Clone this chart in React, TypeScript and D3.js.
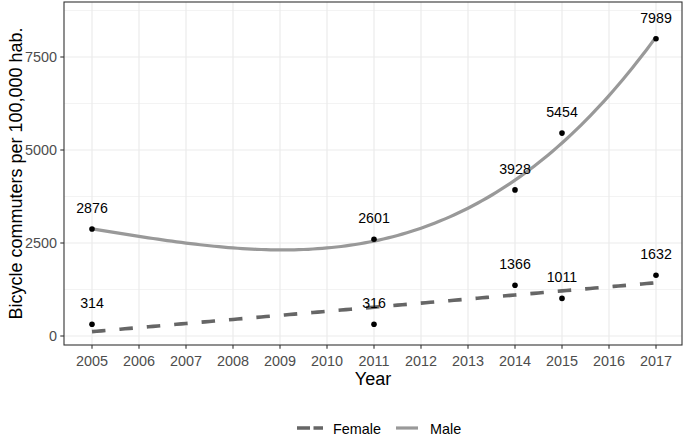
import React from "react";
import * as d3 from "d3";

const years = [2005, 2011, 2014, 2015, 2017];
const maleValues = [2876, 2601, 3928, 5454, 7989];
const femaleValues = [314, 316, 1366, 1011, 1632];
const xTicks = [2005, 2006, 2007, 2008, 2009, 2010, 2011, 2012, 2013, 2014, 2015, 2016, 2017];
const yTicks = [0, 2500, 5000, 7500];
const yMinor = [1250, 3750, 6250, 8750];
const seriesNames = ["Female", "Male"];

function polyFit(xs: number[], ys: number[], deg: number) {
  const x0 = d3.mean(xs) as number;
  const n = deg + 1;
  const A: number[][] = Array.from({ length: n }, () => new Array(n + 1).fill(0));
  xs.forEach((xv, i) => {
    const u = xv - x0;
    for (let r = 0; r < n; r++) {
      for (let c = 0; c < n; c++) A[r][c] += Math.pow(u, r + c);
      A[r][n] += Math.pow(u, r) * ys[i];
    }
  });
  for (let i = 0; i < n; i++) {
    let p = i;
    for (let k = i + 1; k < n; k++) if (Math.abs(A[k][i]) > Math.abs(A[p][i])) p = k;
    const tmp = A[i]; A[i] = A[p]; A[p] = tmp;
    for (let k = 0; k < n; k++) {
      if (k === i) continue;
      const f = A[k][i] / A[i][i];
      for (let c = i; c <= n; c++) A[k][c] -= f * A[i][c];
    }
  }
  const coef = A.map((row, i) => row[n] / row[i]);
  return (xv: number) => coef.reduce((s, c, i) => s + c * Math.pow(xv - x0, i), 0);
}

export default function App() {
  const W = 686, H = 442;
  const left = 64, right = 682, top = 2, bottom = 345;
  const x = d3.scaleLinear().domain([2005, 2017]).range([92, 656]);
  const y = d3.scaleLinear().domain([0, 7500]).range([336, 57]);

  const maleFit = polyFit(years, maleValues, 3);
  const femaleFit = polyFit(years, femaleValues, 1);
  const grid = d3.range(2005, 2017.001, 0.1);
  const line = d3.line<number[]>().x(d => x(d[0])).y(d => y(d[1]));
  const malePath = line(grid.map(g => [g, maleFit(g)])) || "";
  const femalePath = line(grid.map(g => [g, femaleFit(g)])) || "";

  const font = "Liberation Sans, Arial, Helvetica, sans-serif";
  const points = [
    ...years.map((yr, i) => ({ yr, v: maleValues[i] })),
    ...years.map((yr, i) => ({ yr, v: femaleValues[i] })),
  ];

  return (
    <svg width={W} height={H} style={{ position: "absolute", left: 0, top: 0 }} fontFamily={font}>
      <rect x={0} y={0} width={W} height={H} fill="#fff" />
      {yMinor.map(t => (
        <line key={"ym" + t} x1={left} x2={right} y1={y(t)} y2={y(t)} stroke="#EBEBEB" strokeWidth={0.6} />
      ))}
      {yTicks.map(t => (
        <line key={"yg" + t} x1={left} x2={right} y1={y(t)} y2={y(t)} stroke="#EBEBEB" strokeWidth={1.2} />
      ))}
      {xTicks.map(t => (
        <line key={"xg" + t} x1={x(t)} x2={x(t)} y1={top} y2={bottom} stroke="#EBEBEB" strokeWidth={1.2} />
      ))}
      <path d={malePath} fill="none" stroke="#999999" strokeWidth={3.2} />
      <path d={femalePath} fill="none" stroke="#666666" strokeWidth={3.6} strokeDasharray="13.5 14" />
      {points.map((p, i) => (
        <g key={"p" + i}>
          <circle cx={x(p.yr)} cy={y(p.v)} r={2.8} fill="#000" />
          <text x={x(p.yr)} y={y(p.v) - 16} textAnchor="middle" fontSize={14.2} fill="#000">{p.v}</text>
        </g>
      ))}
      <rect x={left} y={top} width={right - left} height={bottom - top} fill="none" stroke="#333333" strokeWidth={1.1} />
      {yTicks.map(t => (
        <g key={"yt" + t}>
          <line x1={left - 3.7} x2={left} y1={y(t)} y2={y(t)} stroke="#333333" strokeWidth={1.1} />
          <text x={left - 7} y={y(t)} dy="0.36em" textAnchor="end" fontSize={14.4} fill="#4D4D4D">{t}</text>
        </g>
      ))}
      {xTicks.map(t => (
        <g key={"xt" + t}>
          <line x1={x(t)} x2={x(t)} y1={bottom} y2={bottom + 3.7} stroke="#333333" strokeWidth={1.1} />
          <text x={x(t)} y={365.5} textAnchor="middle" fontSize={14.4} fill="#4D4D4D">{t}</text>
        </g>
      ))}
      <text x={(left + right) / 2} y={385} textAnchor="middle" fontSize={18} fill="#000">Year</text>
      <text transform={`translate(21.5,${(top + bottom) / 2}) rotate(-90)`} textAnchor="middle" fontSize={18} fill="#000">
        Bicycle commuters per 100,000 hab.
      </text>
      <g>
        <line x1={297} x2={323} y1={428} y2={428} stroke="#666666" strokeWidth={3.6} strokeDasharray="13 3.5" />
        <text x={333} y={433.5} fontSize={14.4} fill="#000">{seriesNames[0]}</text>
        <line x1={396} x2={418} y1={428} y2={428} stroke="#999999" strokeWidth={3.2} />
        <text x={430} y={433.5} fontSize={14.4} fill="#000">{seriesNames[1]}</text>
      </g>
    </svg>
  );
}
